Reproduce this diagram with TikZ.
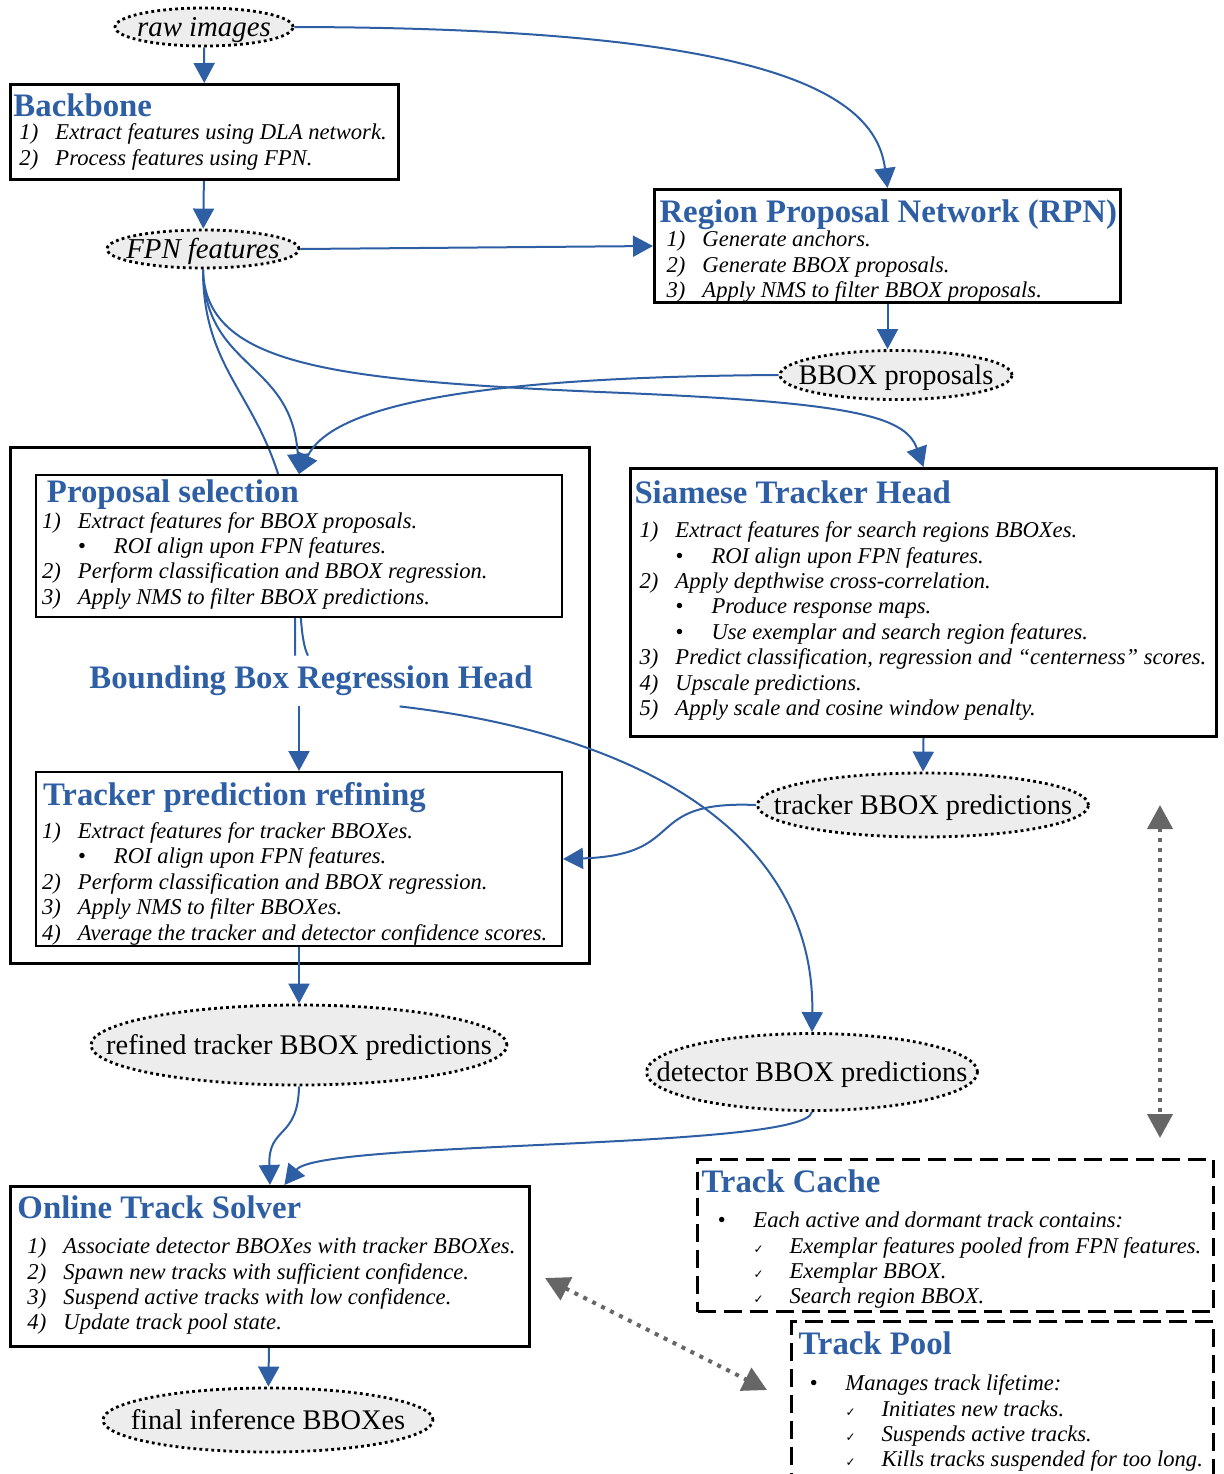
\documentclass[tikz,border=0pt]{standalone}
\usepackage{fontspec}
\setmainfont{Liberation Serif}
\newfontfamily\chkfont{DejaVu Sans}
\usetikzlibrary{arrows.meta,shapes.geometric,backgrounds}

\definecolor{hdblue}{RGB}{46,94,163}
\definecolor{lnkgray}{RGB}{102,102,102}
\definecolor{ovfill}{RGB}{237,237,237}

% lengths are given in drawing units (half points)
\newcommand{\px}[1]{\dimexpr #1pt/2\relax}
% panel body: width, height, top pad, content
\newcommand{\pnl}[4]{\begin{minipage}[t][\px{#2}][t]{\px{#1}}\fontsize{11.3}{12.7}\selectfont\itshape
  \vspace*{\px{#3}}#4\end{minipage}}
% panel title: indent, text, gap below
\newcommand{\hd}[3]{\hspace*{\px{#1}}{\upshape\bfseries\fontsize{16.4}{18}\selectfont\color{hdblue}#2}\par\vspace{\px{#3}}}
% numbered step and sub bullet: indent, marker, text
\newcommand{\stp}[3]{\mbox{\hspace*{\px{#1}}\makebox[18pt][l]{#2}#3}\par}
\newcommand{\bul}[3]{\mbox{\hspace*{\px{#1}}\hspace*{18pt}\makebox[18pt][l]{\upshape #2}#3}\par}
\newcommand{\chk}{{\chkfont\upshape\fontsize{6}{6}\selectfont ✓}}
\newcommand{\ovtxt}[1]{\makebox[0pt]{#1}}

\tikzstyle{blk} = [draw, line width=1.5pt, fill=white, anchor=north west, inner sep=0pt]
\tikzstyle{blkthin} = [blk, line width=1pt]
\tikzstyle{blkdash} = [blk, dash pattern=on 9pt off 4pt]
\tikzstyle{dat} = [ellipse, draw, fill=ovfill, line width=1.4pt, dash pattern=on 1.4pt off 1.6pt,
    inner sep=0pt, text height=2ex, text depth=0pt, font=\fontsize{14.2}{16}\selectfont]
\tikzstyle{flow} = [draw=hdblue, line width=1pt, -{Triangle[length=10pt,width=10.5pt]}]
\tikzstyle{lnk} = [draw=lnkgray, line width=2pt, dash pattern=on 2pt off 3pt,
    {Triangle[length=12pt,width=12.5pt]}-{Triangle[length=12pt,width=12.5pt]}]

\begin{document}
\begin{tikzpicture}[x=0.5pt,y=-0.5pt]
  \useasboundingbox (0,0) rectangle (1224,1474);

  % data
  \node[dat, minimum width=89pt, minimum height=19pt, font=\fontsize{14.4}{16}\selectfont\itshape] (raw) at (204,27) {\ovtxt{raw images}};
  \node[dat, minimum width=96pt, minimum height=19pt, font=\fontsize{14.4}{16}\selectfont\itshape] (fpn) at (203,249) {\ovtxt{FPN features}};
  \node[dat, minimum width=116pt, minimum height=24.5pt] (bbp) at (896,375) {\ovtxt{BBOX proposals}};
  \node[dat, minimum width=165.5pt, minimum height=32pt] (tkp) at (923,805) {\ovtxt{tracker BBOX predictions}};
  \node[dat, minimum width=208pt, minimum height=40pt] (ref) at (299,1045) {\ovtxt{refined tracker BBOX predictions}};
  \node[dat, minimum width=165.5pt, minimum height=38.5pt] (dp) at (812,1072) {\ovtxt{detector BBOX predictions}};
  \node[dat, minimum width=165pt, minimum height=32pt] (fin) at (268,1420) {\ovtxt{final inference BBOXes}};

  % blocks
  \node[blk] (bb) at (9,83) {\pnl{388}{95}{9}{%
    \hd{3}{Backbone}{-2}
    \stp{9}{1)}{Extract features using DLA network.}
    \stp{9}{2)}{Process features using FPN.}}};
  \node[blk] (rpn) at (653,188) {\pnl{466}{113}{10}{%
    \hd{5}{Region Proposal Network (RPN)}{-1}
    \stp{12}{1)}{Generate anchors.}
    \stp{12}{2)}{Generate BBOX proposals.}
    \stp{12}{3)}{Apply NMS to filter BBOX proposals.}}};
  \node[blk, fill=none, minimum width=289.5pt, minimum height=258pt] (bbr) at (9,446) {};
  \node[font=\fontsize{16.4}{18}\selectfont\bfseries, text=hdblue, inner ysep=5pt] (bbrlbl) at (311,681) {Bounding Box Regression Head};
  \node[blkthin] (ps) at (35,474) {\pnl{526}{142}{5}{%
    \hd{11}{Proposal selection}{0}
    \stp{6}{1)}{Extract features for BBOX proposals.}
    \bul{6}{\textbullet}{ROI align upon FPN features.}
    \stp{6}{2)}{Perform classification and BBOX regression.}
    \stp{6}{3)}{Apply NMS to filter BBOX predictions.}}};
  \node[blkthin] (tr) at (35,771) {\pnl{526}{174}{10}{%
    \hd{7}{Tracker prediction refining}{8}
    \stp{6}{1)}{Extract features for tracker BBOXes.}
    \bul{6}{\textbullet}{ROI align upon FPN features.}
    \stp{6}{2)}{Perform classification and BBOX regression.}
    \stp{6}{3)}{Apply NMS to filter BBOXes.}
    \stp{6}{4)}{Average the tracker and detector confidence scores.}}};
  \node[blk] (sia) at (629,467) {\pnl{586}{268}{12}{%
    \hd{4}{Siamese Tracker Head}{9}
    \stp{9}{1)}{Extract features for search regions BBOXes.}
    \bul{9}{\textbullet}{ROI align upon FPN features.}
    \stp{9}{2)}{Apply depthwise cross-correlation.}
    \bul{9}{\textbullet}{Produce response maps.}
    \bul{9}{\textbullet}{Use exemplar and search region features.}
    \stp{9}{3)}{Predict classification, regression and ``centerness'' scores.}
    \stp{9}{4)}{Upscale predictions.}
    \stp{9}{5)}{Apply scale and cosine window penalty.}}};
  \node[blk] (ots) at (9,1185) {\pnl{519}{160}{9}{%
    \hd{7}{Online Track Solver}{10}
    \stp{17}{1)}{Associate detector BBOXes with tracker BBOXes.}
    \stp{17}{2)}{Spawn new tracks with sufficient confidence.}
    \stp{17}{3)}{Suspend active tracks with low confidence.}
    \stp{17}{4)}{Update track pool state.}}};
  \node[blkdash] (tc) at (696,1158) {\pnl{516}{152}{10}{%
    \hd{4}{Track Cache}{10}
    \stp{20}{\textbullet}{Each active and dormant track contains:}
    \bul{20}{\chk}{Exemplar features pooled from FPN features.}
    \bul{20}{\chk}{Exemplar BBOX.}
    \bul{20}{\chk}{Search region BBOX.}}};
  \node[blkdash] (tp) at (790,1320) {\pnl{422}{175}{10}{%
    \hd{7}{Track Pool}{11}
    \stp{18}{\textbullet}{Manages track lifetime:}
    \bul{18}{\chk}{Initiates new tracks.}
    \bul{18}{\chk}{Suspends active tracks.}
    \bul{18}{\chk}{Kills tracks suspended for too long.}}};

  % feature lines running under the proposal block
  \begin{pgfonlayer}{background}
    \draw[hdblue, line width=1pt] (fpn.south) .. controls (203,400) and (295,400) .. (295,600) -- ([xshift=-8pt]bbrlbl.north);
    \draw[hdblue, line width=1pt] (ps.north) .. controls (298,600) and (300,640) .. ([xshift=-1.5pt]bbrlbl.north);
  \end{pgfonlayer}

  \draw[flow] (raw) -- (bb);
  \draw[flow] (raw.east) .. controls (760,28) and (875,90) .. (rpn.north);
  \draw[flow] (bb) -- (fpn);
  \draw[flow] (fpn.east) -- (rpn.west);
  \draw[flow] (rpn.south) -- (rpn.south |- bbp.north);
  \draw[flow] (bbp.west) .. controls (450,377) and (330,410) .. (ps.north);
  \draw[flow] (fpn.south) .. controls (205,370) and (292,360) .. (ps.north);
  \draw[flow] (fpn.south) .. controls (205,365) and (330,380) .. (600,392) .. controls (850,402) and (905,415) .. (sia.north);
  \draw[flow] (bbrlbl.south -| tr.north) -- (tr.north);
  \draw[flow] (bbrlbl.-16) .. controls (650,735) and (815,840) .. (dp.north);
  \draw[flow] (sia.south) -- (tkp.north);
  \draw[flow] (tkp.west) .. controls (640,800) and (690,855) .. (tr.east);
  \draw[flow] (tr) -- (ref);
  \draw[flow] (ref.south) .. controls (298,1140) and (268,1125) .. (ots.north);
  \draw[flow] (dp.south) .. controls (805,1150) and (320,1140) .. (ots.80);
  \draw[flow] (ots) -- (fin);

  % cache / pool links
  \coordinate (cacheA) at (1160,805);
  \coordinate (cacheB) at (1160,1138);
  \coordinate (poolA) at (545,1278);
  \coordinate (poolB) at (767,1390);
  \draw[lnk] (cacheA) -- (cacheB);
  \draw[lnk] (poolA) -- (poolB);
\end{tikzpicture}
\end{document}
